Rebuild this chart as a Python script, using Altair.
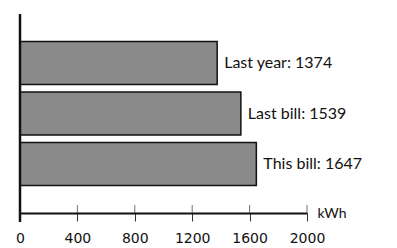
import altair as alt
import pandas as pd

categories = ["Last year", "Last bill", "This bill"]
values = [1374, 1539, 1647]
tick_values = [0, 400, 800, 1200, 1600, 2000]

df = pd.DataFrame({"cat": categories, "val": values})
df["label"] = [f"{c}: {v}" for c, v in zip(categories, values)]
ticks = pd.DataFrame({"t": tick_values[1:]})

W, H = 287, 199
xs = alt.Scale(domain=[0, 2000], nice=False)
ys = alt.Scale(domain=categories, paddingInner=0.15, paddingOuter=0.545)

bars = alt.Chart(df).mark_bar(color="#8a8a8a", stroke="#111", strokeWidth=1.5).encode(
    x=alt.X("val:Q", scale=xs, axis=alt.Axis(
        values=tick_values, format="d", title="kWh", titleX=W + 10, titleY=0, titleAlign="left",
        titleBaseline="middle", titleFont="Lato", titleFontSize=14, titleFontWeight="normal",
        titleColor="#111", labelFont="DejaVu Sans", labelFontSize=14, labelColor="#111",
        labelPadding=10, tickSize=8, tickColor="#333", domainColor="#111", domainWidth=2,
        grid=False, labelFlush=False)),
    y=alt.Y("cat:N", scale=ys, axis=None, sort=categories),
)

labels = alt.Chart(df).mark_text(align="left", baseline="middle", dx=7, font="Lato",
                                 fontSize=16, color="#111").encode(
    x=alt.X("val:Q", scale=xs),
    y=alt.Y("cat:N", scale=ys, sort=categories),
    text="label:N",
)

upticks = alt.Chart(ticks).mark_tick(orient="vertical", size=8, color="#333", thickness=1).encode(
    x=alt.X("t:Q", scale=xs),
    y=alt.value(H - 4),
)

yaxis = alt.Chart(pd.DataFrame({"z": [0]})).mark_rule(color="#111", strokeWidth=2.5).encode(
    x=alt.X("z:Q", scale=xs),
    y=alt.value(0),
    y2=alt.value(H + 9),
)

chart = alt.layer(bars, labels, upticks, yaxis).properties(
    width=W, height=H,
    autosize=alt.AutoSizeParams(type="none"),
    padding={"left": 12, "top": 6, "right": 80, "bottom": 35},
).configure(background="white").configure_view(stroke=None)

chart.save("out.html", embed_options={"renderer": "svg", "actions": False})
